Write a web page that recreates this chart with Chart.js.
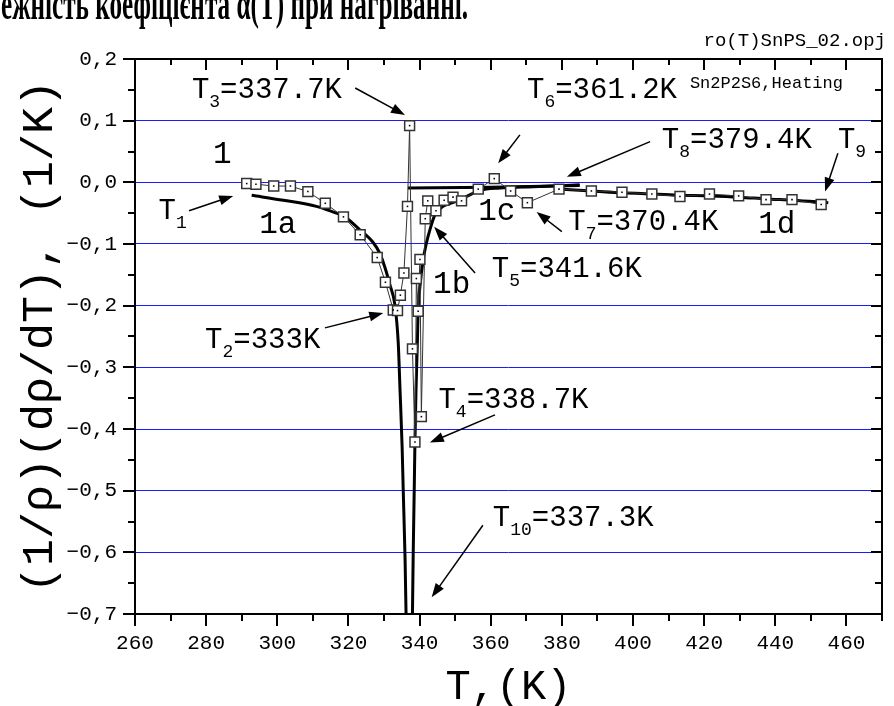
<!DOCTYPE html>
<html>
<head>
<meta charset="utf-8">
<script src="https://cdn.jsdelivr.net/npm/chart.js@4.4.0/dist/chart.umd.min.js"></script>
<style>
  html, body { margin: 0; padding: 0; background: #fff; overflow: hidden; }
</style>
</head>
<body>
<canvas id="chart" width="894" height="706"></canvas>
<script>
// measured points, heating run
const tempK = [291.4, 294.0, 299.0, 303.7, 308.6, 313.5, 318.6, 323.3, 328.1, 330.4,
  332.6, 333.8, 334.6, 335.6, 336.6, 337.2, 338.0, 338.7, 339.1, 339.6,
  340.1, 340.5, 341.6, 342.3, 344.6, 346.9, 349.4, 351.8, 356.5, 361.0,
  365.6, 370.3, 379.2, 388.3, 396.9, 405.3, 413.2, 421.5, 429.7, 437.4,
  444.7, 452.9];
const alphaVals = [-0.002, -0.003, -0.006, -0.006, -0.015, -0.034, -0.056, -0.085, -0.122, -0.162,
  -0.207, -0.208, -0.183, -0.147, -0.039, 0.092, -0.270, -0.421, -0.156, -0.209,
  -0.125, -0.380, -0.059, -0.030, -0.046, -0.029, -0.024, -0.030, -0.011, 0.006,
  -0.014, -0.033, -0.011, -0.014, -0.016, -0.019, -0.023, -0.019, -0.022, -0.028,
  -0.028, -0.036];

// fitted branches (thick lines)
const fit1aT = [292.8, 301.7, 311.0, 316.6, 318.5, 323.2, 327.0, 328.8, 330.2, 331.6, 333.1, 334.0, 334.5, 335.1, 335.4, 335.9, 336.2, 336.3];
const fit1aV = [-0.021, -0.029, -0.039, -0.050, -0.054, -0.077, -0.098, -0.115, -0.137, -0.165, -0.200, -0.260, -0.336, -0.430, -0.498, -0.606, -0.700, -0.760];
const fit1bT = [337.9, 338.0, 338.2, 338.5, 338.7, 339.0, 339.4, 339.6, 340.1, 341.0, 341.9, 342.9, 344.3, 346.6, 350.3, 353.2, 356.9, 362.6, 372.0, 385.0];
const fit1bV = [-0.760, -0.700, -0.606, -0.498, -0.421, -0.336, -0.255, -0.207, -0.169, -0.126, -0.099, -0.077, -0.053, -0.039, -0.031, -0.023, -0.013, -0.009, -0.007, -0.004];
const fit1cT = [336.7, 360.0, 385.0];
const fit1cV = [-0.009, -0.008, -0.005];
const fit1dT = [379.3, 388.4, 397.0, 405.7, 413.5, 421.7, 430.0, 437.6, 445.0, 454.9];
const fit1dV = [-0.011, -0.014, -0.017, -0.019, -0.021, -0.022, -0.024, -0.027, -0.029, -0.033];

const chartTitle = 'ежність коефіцієнта α(T) при нагріванні.';
const fileName = 'ro(T)SnPS_02.opj';
const sampleNote = 'Sn2P2S6,Heating';

// labels: [T, value] anchor of text baseline, optional arrow from -> to
const notes = [
  { at: [281.9, 0.031], parts: [['1']], big: true },
  { at: [294.9, -0.082], parts: [['1a']], big: true },
  { at: [343.8, -0.179], parts: [['1b']], big: true },
  { at: [356.5, -0.061], parts: [['1c']], big: true },
  { at: [435.2, -0.082], parts: [['1d']], big: true },
  { at: [266.6, -0.059], parts: [['T'], ['1', 1]], arrow: [[275.2, -0.046], [287.6, -0.022]] },
  { at: [279.7, -0.268], parts: [['T'], ['2', 1], ['=333K']], arrow: [[313.4, -0.236], [329.8, -0.212]] },
  { at: [276.0, 0.136], parts: [['T'], ['3', 1], ['=337.7K']], arrow: [[321.9, 0.153], [335.9, 0.109]] },
  { at: [345.3, -0.366], parts: [['T'], ['4', 1], ['=338.7K']], arrow: [[361.2, -0.377], [342.9, -0.422]] },
  { at: [360.3, -0.153], parts: [['T'], ['5', 1], ['=341.6K']], arrow: [[355.6, -0.147], [344.1, -0.072]] },
  { at: [370.2, 0.136], parts: [['T'], ['6', 1], ['=361.2K']], arrow: [[368.2, 0.077], [362.1, 0.031]] },
  { at: [381.8, -0.077], parts: [['T'], ['7', 1], ['=370.4K']], arrow: [[380.0, -0.080], [372.9, -0.048]] },
  { at: [408.1, 0.056], parts: [['T'], ['8', 1], ['=379.4K']], arrow: [[404.8, 0.066], [381.4, 0.009]] },
  { at: [457.6, 0.056], parts: [['T'], ['9', 1]], arrow: [[457.6, 0.047], [454.0, -0.015]] },
  { at: [360.6, -0.557], parts: [['T'], ['10', 1], ['=337.3K']], arrow: [[357.8, -0.556], [343.4, -0.673]] }
];

const MONO = '"Liberation Mono", monospace';

function toXY(ts, vs) {
  return ts.map((t, i) => ({ x: t, y: vs[i] }));
}

function drawArrow(ctx, x1, y1, x2, y2) {
  const ang = Math.atan2(y2 - y1, x2 - x1);
  const hl = 14, hw = 5;
  ctx.beginPath();
  ctx.moveTo(x1, y1);
  ctx.lineTo(x2 - hl * 0.7 * Math.cos(ang), y2 - hl * 0.7 * Math.sin(ang));
  ctx.stroke();
  ctx.beginPath();
  ctx.moveTo(x2, y2);
  ctx.lineTo(x2 - hl * Math.cos(ang) + hw * Math.sin(ang), y2 - hl * Math.sin(ang) - hw * Math.cos(ang));
  ctx.lineTo(x2 - hl * Math.cos(ang) - hw * Math.sin(ang), y2 - hl * Math.sin(ang) + hw * Math.cos(ang));
  ctx.closePath();
  ctx.fill();
}

const frameAndNotes = {
  id: 'frameAndNotes',
  afterDraw(chart) {
    const { ctx, chartArea: a, scales: { x, y } } = chart;
    ctx.save();
    ctx.strokeStyle = '#000';
    ctx.fillStyle = '#000';
    ctx.lineWidth = 2;
    ctx.lineCap = 'butt';

    // ticks, every 10 K on x, every 0.05 on y
    ctx.beginPath();
    for (let i = 0; i <= 21; i++) {
      const px = Math.round(x.getPixelForValue(260 + 10 * i));
      const major = i % 2 === 0;
      ctx.moveTo(px, a.bottom); ctx.lineTo(px, a.bottom + (major ? 12 : 7));
      ctx.moveTo(px, a.top); ctx.lineTo(px, a.top + (major ? 11 : 6));
    }
    for (let i = 0; i <= 18; i++) {
      const py = Math.round(y.getPixelForValue(-0.7 + 0.05 * i));
      const major = i % 2 === 0;
      ctx.moveTo(a.left, py); ctx.lineTo(a.left - (major ? 12 : 7), py);
      ctx.moveTo(a.right, py); ctx.lineTo(a.right - (major ? 11 : 7), py);
    }
    ctx.stroke();
    ctx.strokeRect(a.left, a.top, a.right - a.left, a.bottom - a.top);

    // labels and arrows
    ctx.lineWidth = 1.5;
    ctx.textBaseline = 'alphabetic';
    ctx.textAlign = 'left';
    notes.forEach(n => {
      let cx = x.getPixelForValue(n.at[0]);
      const cy = y.getPixelForValue(n.at[1]);
      n.parts.forEach(p => {
        const sub = p[1] === 1;
        ctx.font = (sub ? '18px ' : (n.big ? '31px ' : '29px ')) + MONO;
        ctx.fillText(p[0], cx, cy + (sub ? 9 : 0));
        cx += ctx.measureText(p[0]).width;
      });
      if (n.arrow) {
        drawArrow(ctx,
          x.getPixelForValue(n.arrow[0][0]), y.getPixelForValue(n.arrow[0][1]),
          x.getPixelForValue(n.arrow[1][0]), y.getPixelForValue(n.arrow[1][1]));
      }
    });

    ctx.font = '17px ' + MONO;
    ctx.fillText(sampleNote, x.getPixelForValue(416.0), y.getPixelForValue(0.153));

    ctx.font = '19px ' + MONO;
    ctx.textAlign = 'right';
    ctx.fillText(fileName, 886, 46);

    // cut-off heading at the very top
    ctx.textAlign = 'left';
    ctx.font = 'bold 46px "Liberation Serif", serif';
    const w = ctx.measureText(chartTitle).width;
    ctx.translate(1, 19);
    ctx.scale(467 / w, 1);
    ctx.fillText(chartTitle, 0, 0);
    ctx.restore();
  }
};

const ctxEl = document.getElementById('chart');
new Chart(ctxEl, {
  type: 'scatter',
  data: {
    datasets: [
      {
        label: 'centres',
        data: toXY(tempK, alphaVals),
        showLine: false,
        pointStyle: 'rect',
        pointRadius: 1.1,
        pointBackgroundColor: '#000',
        pointBorderWidth: 0,
        order: 0
      },
      {
        label: 'measured',
        data: toXY(tempK, alphaVals),
        showLine: true,
        borderColor: '#333',
        borderWidth: 1,
        pointStyle: 'rect',
        pointRadius: 7,
        pointBackgroundColor: '#fff',
        pointBorderColor: '#333',
        pointBorderWidth: 1.5,
        order: 1
      },
      { label: '1a', data: toXY(fit1aT, fit1aV), showLine: true, borderColor: '#000', borderWidth: 3, pointRadius: 0, cubicInterpolationMode: 'monotone', order: 2 },
      { label: '1b', data: toXY(fit1bT, fit1bV), showLine: true, borderColor: '#000', borderWidth: 3, pointRadius: 0, cubicInterpolationMode: 'monotone', order: 2 },
      { label: '1c', data: toXY(fit1cT, fit1cV), showLine: true, borderColor: '#000', borderWidth: 3, pointRadius: 0, order: 2 },
      { label: '1d', data: toXY(fit1dT, fit1dV), showLine: true, borderColor: '#000', borderWidth: 3, pointRadius: 0, cubicInterpolationMode: 'monotone', order: 2 }
    ]
  },
  options: {
    responsive: false,
    animation: false,
    devicePixelRatio: 1,
    layout: { padding: { top: 59, right: 12, left: 0, bottom: 0 } },
    plugins: { legend: { display: false }, tooltip: { enabled: false } },
    scales: {
      x: {
        type: 'linear',
        min: 260,
        max: 470,
        afterFit(scale) { scale.height = 92; },
        border: { display: false },
        grid: { display: false, drawTicks: false },
        ticks: {
          stepSize: 20,
          includeBounds: false,
          padding: 17,
          color: '#000',
          font: { family: MONO, size: 21 },
          maxRotation: 0
        },
        title: {
          display: true,
          text: 'T,(K)',
          color: '#000',
          padding: 0,
          font: { family: MONO, size: 42, lineHeight: 0.86 }
        }
      },
      y: {
        type: 'linear',
        min: -0.7,
        max: 0.2,
        afterFit(scale) { scale.width = 135; },
        border: { display: false },
        grid: {
          drawTicks: false,
          lineWidth: 1,
          color: c => {
            const v = Math.round(c.tick.value * 10);
            return (v === 2 || v === -7) ? 'rgba(0,0,0,0)' : '#1a1aff';
          }
        },
        ticks: {
          stepSize: 0.1,
          padding: 18,
          color: '#000',
          font: { family: MONO, size: 21 },
          callback: v => {
            const r = Math.round(v * 10) / 10;
            return (r < 0 ? '−' : '') + Math.abs(r).toFixed(1).replace('.', ',');
          }
        },
        title: {
          display: true,
          text: '(1/ρ)(dρ/dT), (1/K)',
          color: '#000',
          padding: 0,
          font: { family: MONO, size: 45, lineHeight: 1.8 }
        }
      }
    }
  },
  plugins: [frameAndNotes]
});
</script>
</body>
</html>
